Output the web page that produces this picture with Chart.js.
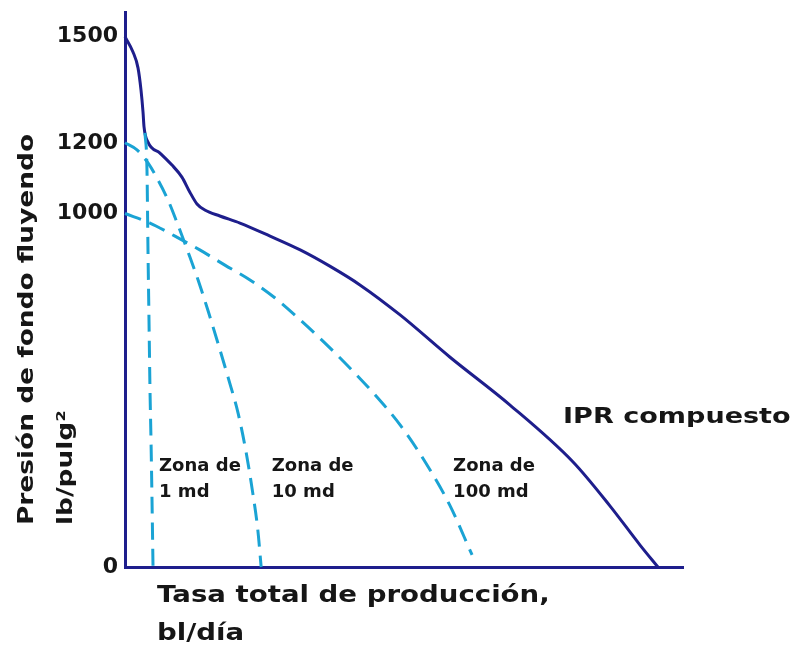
<!DOCTYPE html>
<html>
<head>
<meta charset="utf-8">
<script src="https://cdn.jsdelivr.net/npm/chart.js@4"></script>
<style>
  html, body { margin: 0; padding: 0; background: #fff; }
  #wrap { width: 795px; height: 645px; }
</style>
</head>
<body>
<div id="wrap"><canvas id="chart-ipr"></canvas></div>
<script>
// axis ranges and tick labels
var X_MAX = 100;
var Y_MAX = 1570;
var Y_TICKS = [0, 1000, 1200, 1500];

// IPR compuesto
var iprQ = [0, 1.43, 2.33, 2.87, 3.23, 3.41, 4.12, 6.27, 8.42, 10.2, 11.6, 12.9, 14.3, 17.0, 20.6, 26.0, 31.4, 36.7, 42.1, 49.3, 58.2, 69.0, 80.3, 86.9, 92.3, 95.5];
var iprP = [1500, 1457, 1412, 1349, 1287, 1245, 1202, 1171, 1137, 1103, 1061, 1027, 1010, 993, 973, 936, 897, 851, 798, 713, 594, 458, 297, 173, 62, 0];

// Zona de 1 md
var z1Q = [3.58, 3.94, 4.12, 4.30, 4.48, 4.66, 4.84, 5.02];
var z1P = [1228, 1123, 897, 699, 501, 359, 190, 0];

// Zona de 10 md
var z10Q = [0, 2.15, 4.12, 5.91, 7.71, 9.50, 11.3, 13.1, 14.9, 16.7, 18.5, 20.3, 21.7, 22.9, 23.8, 24.4];
var z10P = [1200, 1180, 1143, 1095, 1038, 967, 891, 812, 724, 631, 535, 433, 325, 209, 105, 0];

// Zona de 100 md
var z100Q = [0, 4.48, 8.96, 13.4, 17.9, 22.4, 26.9, 31.4, 35.8, 40.3, 44.8, 49.3, 53.8, 58.2, 62.2];
var z100P = [1000, 973, 936, 897, 854, 812, 761, 699, 634, 563, 487, 402, 297, 175, 34];

var NAVY = 'rgb(30, 30, 140)';
var CYAN = 'rgb(26, 163, 212)';
var INK = '#161616';

function pts(xs, ys) {
    return xs.map(function (x, i) { return { x: x, y: ys[i] }; });
}

// free text: titles and curve labels
var labels = [
    { text: 'Presión de fondo fluyendo', px: 33, py: 525, rot: true, size: 22, sx: 1.2 },
    { text: 'lb/pulg²', px: 72, py: 525, rot: true, size: 22, sx: 1.2 },
    { text: 'Tasa total de producción,', px: 157, py: 602, size: 23, sx: 1.2 },
    { text: 'bl/día', px: 157, py: 640, size: 23, sx: 1.2 },
    { text: 'IPR compuesto', x: 78.5, y: 407, size: 22, sx: 1.23 },
    { text: 'Zona de', x: 6.1, y: 272, size: 17, sx: 1.06 },
    { text: '1 md', x: 6.1, y: 198, size: 17, sx: 1.06 },
    { text: 'Zona de', x: 26.3, y: 272, size: 17, sx: 1.06 },
    { text: '10 md', x: 26.3, y: 198, size: 17, sx: 1.06 },
    { text: 'Zona de', x: 58.8, y: 272, size: 17, sx: 1.06 },
    { text: '100 md', x: 58.8, y: 198, size: 17, sx: 1.06 }
];

var textPlugin = {
    id: 'textLabels',
    afterDraw: function (chart) {
        var ctx = chart.ctx;
        var xs = chart.scales.x, ys = chart.scales.y;
        labels.forEach(function (l) {
            var px = l.px !== undefined ? l.px : xs.getPixelForValue(l.x);
            var py = l.py !== undefined ? l.py : ys.getPixelForValue(l.y);
            ctx.save();
            ctx.fillStyle = INK;
            ctx.font = 'bold ' + l.size + 'px "DejaVu Sans"';
            ctx.textAlign = 'left';
            ctx.textBaseline = 'alphabetic';
            ctx.translate(px, py);
            if (l.rot) ctx.rotate(-Math.PI / 2);
            ctx.scale(l.sx, 1);
            ctx.fillText(l.text, 0, 0);
            ctx.restore();
        });
    }
};

function drawIprChart() {
    var ctx = document.getElementById('chart-ipr').getContext('2d');
    var dashed = { borderColor: CYAN, borderWidth: 3, borderDash: [17, 9], pointRadius: 0, cubicInterpolationMode: 'monotone', fill: false, clip: 6 };
    new Chart(ctx, {
        type: 'line',
        data: {
            datasets: [
                Object.assign({ label: 'Zona de 1 md', data: pts(z1Q, z1P) }, dashed),
                Object.assign({ label: 'Zona de 10 md', data: pts(z10Q, z10P) }, dashed),
                Object.assign({ label: 'Zona de 100 md', data: pts(z100Q, z100P) }, dashed),
                {
                    label: 'IPR compuesto',
                    data: pts(iprQ, iprP),
                    borderColor: NAVY,
                    borderWidth: 3,
                    pointRadius: 0,
                    cubicInterpolationMode: 'monotone',
                    fill: false,
                    clip: 6
                }
            ]
        },
        options: {
            responsive: true,
            maintainAspectRatio: false,
            animation: false,
            layout: { padding: { top: 12, right: 112, left: 0, bottom: 0 } },
            plugins: { legend: { display: false }, tooltip: { enabled: false } },
            scales: {
                x: {
                    type: 'linear', min: 0, max: X_MAX,
                    grid: { display: false, drawTicks: false },
                    border: { display: true, color: NAVY, width: 3 },
                    ticks: { display: false },
                    afterFit: function (s) { s.height = 78; s.paddingLeft = 0; s.paddingRight = 0; }
                },
                y: {
                    type: 'linear', min: 0, max: Y_MAX,
                    grid: { display: false, drawTicks: false },
                    border: { display: true, color: NAVY, width: 3 },
                    ticks: {
                        color: INK, padding: 7,
                        font: { family: 'DejaVu Sans', size: 22, weight: 'bold' },
                        callback: function (v) { return String(v); }
                    },
                    afterBuildTicks: function (s) { s.ticks = Y_TICKS.map(function (v) { return { value: v }; }); },
                    afterFit: function (s) { s.width = 125; s.paddingTop = 0; s.paddingBottom = 0; }
                }
            }
        },
        plugins: [textPlugin]
    });
}

drawIprChart();
</script>
</body>
</html>
